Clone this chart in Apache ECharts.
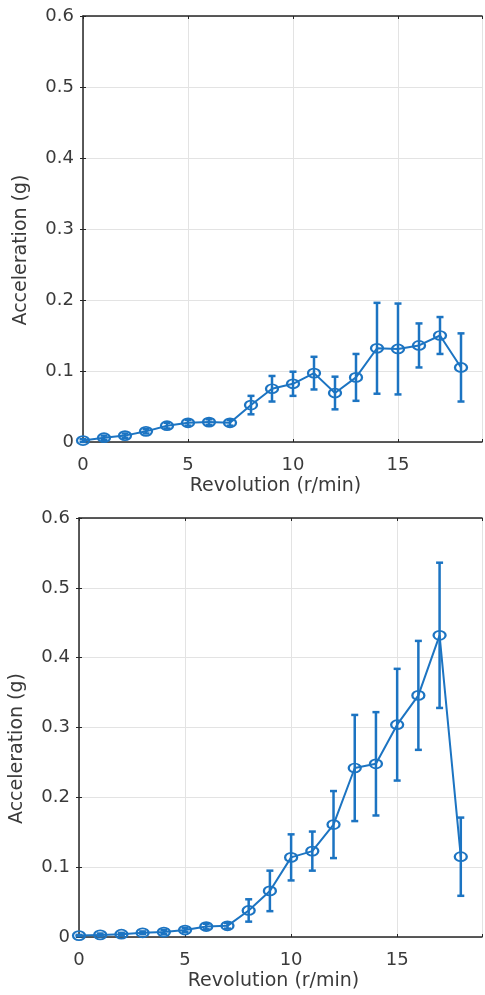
<!DOCTYPE html>
<html>
<head>
<meta charset="utf-8">
<style>
html,body{margin:0;padding:0;background:#fff;}
#chart{width:485px;height:995px;}
</style>
<script src="https://cdn.jsdelivr.net/npm/echarts@6/dist/echarts.min.js"></script>
</head>
<body>
<div id="chart"></div>
<script>
// ---- data ----
var revolution = [0,1,2,3,4,5,6,7,8,9,10,11,12,13,14,15,16,17,18];
var topMean = [0.002,0.006,0.009,0.015,0.023,0.027,0.028,0.027,0.052,0.075,0.082,0.097,0.069,0.091,0.132,0.131,0.136,0.150,0.105];
var topErr  = [0.002,0.003,0.003,0.003,0.004,0.004,0.004,0.004,0.013,0.018,0.017,0.023,0.023,0.033,0.064,0.064,0.031,0.026,0.048];
var bottomMean = [0.002,0.003,0.004,0.006,0.007,0.010,0.015,0.016,0.038,0.066,0.114,0.123,0.161,0.242,0.248,0.304,0.346,0.432,0.115];
var bottomErr  = [0.001,0.002,0.002,0.002,0.003,0.003,0.004,0.004,0.016,0.029,0.033,0.028,0.048,0.076,0.074,0.080,0.078,0.104,0.056];
var yTicks = ['0','0.1','0.2','0.3','0.4','0.5','0.6'];
var xTicks = ['0','5','10','15'];
var xTitle = 'Revolution (r/min)';
var yTitle = 'Acceleration (g)';

var BLUE = '#1c74c2';
var AXC = '#262626';
var TXT = '#3a3a3a';
var FONT = 'DejaVu Sans';

function pts(m){ return revolution.map(function(x,i){ return [x, m[i]]; }); }
function errs(m,e){ return revolution.map(function(x,i){ return [x, m[i]-e[i], m[i]+e[i]]; }); }

function renderErr(params, api){
  var x = api.value(0);
  var lo = api.coord([x, api.value(1)]);
  var hi = api.coord([x, api.value(2)]);
  var hw = 3.5;
  var st = {stroke: BLUE, lineWidth: 2.5};
  return {type:'group', children:[
    {type:'line', shape:{x1:lo[0],y1:lo[1],x2:hi[0],y2:hi[1]}, style:st},
    {type:'line', shape:{x1:lo[0]-hw,y1:lo[1],x2:lo[0]+hw,y2:lo[1]}, style:st},
    {type:'line', shape:{x1:hi[0]-hw,y1:hi[1],x2:hi[0]+hw,y2:hi[1]}, style:st}
  ]};
}

var grids = [
  {left:83, top:16, width:401, height:426},
  {left:79, top:518, width:408, height:419}
];

var xAxes = [], yAxes = [];
grids.forEach(function(g, gi){
  xAxes.push({
    type:'value', gridIndex:gi, min:0, max:19, interval:5, position:'bottom',
    name: xTitle, nameLocation:'middle', nameGap:35,
    nameTextStyle:{fontFamily:FONT, fontSize:19, color:TXT, padding:[0,14,0,0], verticalAlign:'top'},
    axisLine:{show:true, onZero:false, lineStyle:{color:AXC, width:1.5}},
    axisTick:{show:true, inside:true, length:3, lineStyle:{color:AXC}},
    axisLabel:{fontFamily:FONT, fontSize:18, color:TXT, margin:14,
      formatter:function(v){ var s=String(v); return xTicks.indexOf(s)>=0 ? s : ''; }},
    splitLine:{show:true, lineStyle:{color:'#e3e3e3', width:1}}
  });
  xAxes.push({
    type:'value', gridIndex:gi, min:0, max:19, interval:5, position:'top',
    axisLine:{show:true, onZero:false, lineStyle:{color:AXC, width:1.5}},
    axisTick:{show:true, inside:true, length:3, lineStyle:{color:AXC}},
    axisLabel:{show:false}, splitLine:{show:false}
  });
  yAxes.push({
    type:'value', gridIndex:gi, min:0, max:0.6, interval:0.1, position:'left',
    name: yTitle, nameLocation:'middle', nameGap:52, nameRotate:90,
    nameTextStyle:{fontFamily:FONT, fontSize:19, color:TXT, padding:[0,42,0,0]},
    axisLine:{show:true, onZero:false, lineStyle:{color:AXC, width:1.5}},
    axisTick:{show:true, inside:true, length:3, lineStyle:{color:AXC}},
    axisLabel:{fontFamily:FONT, fontSize:18, color:TXT, margin:9,
      formatter:function(v){ return yTicks[Math.round(v*10)]; }},
    splitLine:{show:true, lineStyle:{color:'#e3e3e3', width:1}}
  });
  yAxes.push({
    type:'value', gridIndex:gi, min:0, max:0.6, interval:0.1, position:'right',
    axisLine:{show:false},
    axisTick:{show:true, inside:true, length:3, lineStyle:{color:AXC}},
    axisLabel:{show:false}, splitLine:{show:false}
  });
});

var series = [];
[[topMean, topErr],[bottomMean, bottomErr]].forEach(function(d, gi){
  series.push({
    type:'line', xAxisIndex:gi*2, yAxisIndex:gi*2, data: pts(d[0]),
    symbol:'circle', symbolSize:[12,9], showAllSymbol:true,
    lineStyle:{color:BLUE, width:2},
    itemStyle:{color:'rgba(255,255,255,0)', borderColor:BLUE, borderWidth:2},
    z:3, silent:true, animation:false
  });
  series.push({
    type:'custom', xAxisIndex:gi*2, yAxisIndex:gi*2,
    renderItem: renderErr, data: errs(d[0], d[1]), z:4, silent:true
  });
});

var chart = echarts.init(document.getElementById('chart'), null, {renderer:'canvas'});
chart.setOption({
  animation:false,
  backgroundColor:'#fff',
  grid: grids,
  xAxis: xAxes,
  yAxis: yAxes,
  series: series
});
</script>
</body>
</html>
